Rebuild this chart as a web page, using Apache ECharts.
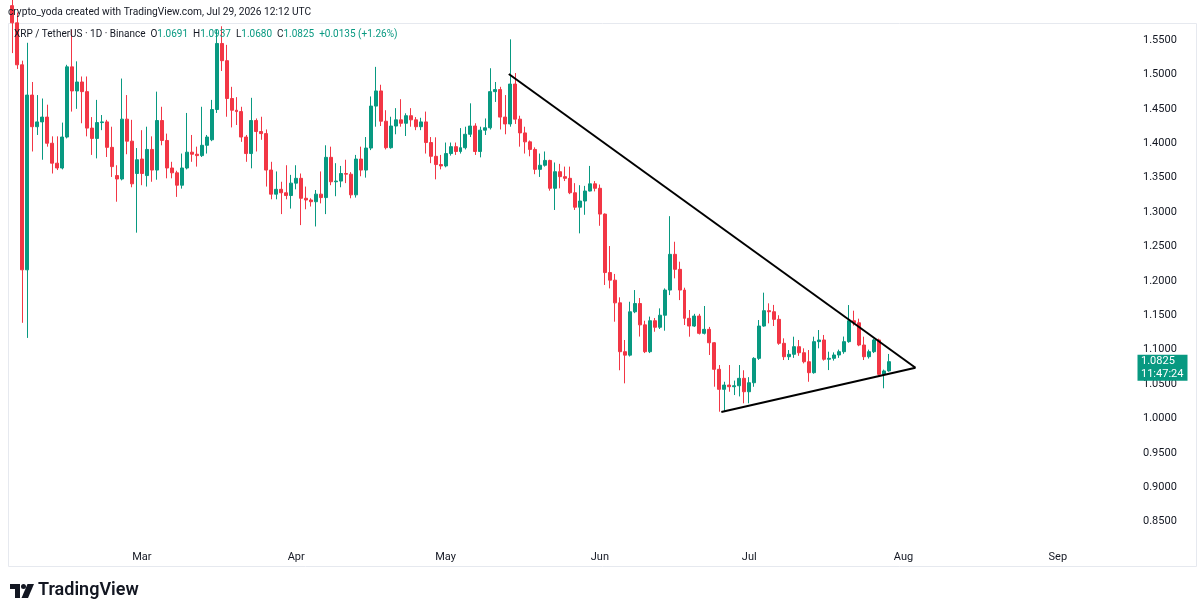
<!DOCTYPE html>
<html>
<head>
<meta charset="utf-8">
<title>XRP / TetherUS 1D</title>
<script src="https://cdn.jsdelivr.net/npm/echarts@6/dist/echarts.min.js"></script>
<style>
  html, body { margin: 0; padding: 0; background: #fff; }
  #main { width: 1200px; height: 616px; }
</style>
</head>
<body>
<div id="main"></div>
<script>
// daily candles, Feb 3 -> Jul 29 (index 0 = Feb 3)
const startDate = '2026-02-03'
const totalDays = 226 // axis runs on past the last candle into Sep

const opens = [
  1.600, 1.575, 1.514, 1.216, 1.470, 1.424, 1.431, 1.438, 1.400, 1.371,
  1.364, 1.409, 1.511, 1.476, 1.489, 1.475, 1.422, 1.407, 1.430, 1.431,
  1.394, 1.353, 1.348, 1.435, 1.403, 1.356, 1.377, 1.353, 1.391, 1.361,
  1.433, 1.404, 1.364, 1.357, 1.339, 1.364, 1.387, 1.384, 1.382, 1.397,
  1.405, 1.449, 1.545, 1.520, 1.465, 1.448, 1.446, 1.409, 1.385, 1.433,
  1.417, 1.414, 1.361, 1.326, 1.333, 1.328, 1.324, 1.342, 1.349, 1.320,
  1.3175, 1.315, 1.326, 1.321, 1.3795, 1.344, 1.345, 1.356, 1.355, 1.325,
  1.377, 1.361, 1.393, 1.454, 1.476, 1.432, 1.3935, 1.425, 1.434, 1.429,
  1.440, 1.434, 1.424, 1.431, 1.401, 1.381, 1.369, 1.367, 1.385, 1.395,
  1.388, 1.3935, 1.413, 1.425, 1.388, 1.419, 1.4225, 1.475, 1.478, 1.438,
  1.428, 1.486, 1.435, 1.415, 1.402, 1.391, 1.362, 1.368, 1.375, 1.3345,
  1.3586, 1.3514, 1.349, 1.328, 1.307, 1.316, 1.3305, 1.341, 1.3345, 1.297,
  1.212, 1.201, 1.168, 1.097, 1.092, 1.155, 1.167, 1.136, 1.097, 1.142,
  1.1325, 1.150, 1.1866, 1.2385, 1.2167, 1.1866, 1.1455, 1.1343, 1.1488, 1.1237,
  1.1295, 1.110, 1.0714, 1.0423, 1.0485, 1.0461, 1.0475, 1.0583, 1.0388, 1.0519,
  1.0873, 1.1343, 1.1566, 1.1551, 1.144, 1.1092, 1.0897, 1.0932, 1.1043, 1.0955,
  1.0824, 1.0665, 1.1116, 1.114, 1.086, 1.0874, 1.0922, 1.097, 1.1116, 1.142,
  1.139, 1.1067, 1.0897, 1.097, 1.114, 1.0641, 1.0691
]
const closes = [
  1.575, 1.514, 1.216, 1.470, 1.424, 1.431, 1.438, 1.400, 1.371, 1.364,
  1.409, 1.511, 1.476, 1.489, 1.475, 1.422, 1.407, 1.430, 1.431, 1.394,
  1.366, 1.348, 1.435, 1.403, 1.341, 1.376, 1.356, 1.391, 1.361, 1.433,
  1.404, 1.364, 1.357, 1.339, 1.364, 1.387, 1.384, 1.382, 1.397, 1.409,
  1.449, 1.545, 1.520, 1.465, 1.448, 1.446, 1.409, 1.385, 1.433, 1.417,
  1.414, 1.361, 1.326, 1.333, 1.328, 1.324, 1.342, 1.349, 1.320, 1.3175,
  1.315, 1.326, 1.321, 1.3795, 1.344, 1.345, 1.356, 1.355, 1.325, 1.377,
  1.361, 1.393, 1.454, 1.476, 1.432, 1.3935, 1.425, 1.434, 1.429, 1.440,
  1.434, 1.424, 1.431, 1.401, 1.381, 1.369, 1.367, 1.385, 1.395, 1.388,
  1.3935, 1.413, 1.425, 1.388, 1.419, 1.4225, 1.475, 1.478, 1.438, 1.428,
  1.486, 1.435, 1.415, 1.402, 1.391, 1.362, 1.368, 1.375, 1.3345, 1.3586,
  1.3514, 1.349, 1.328, 1.307, 1.316, 1.3305, 1.341, 1.3345, 1.297, 1.212,
  1.201, 1.168, 1.097, 1.092, 1.155, 1.167, 1.136, 1.097, 1.142, 1.1325,
  1.150, 1.1866, 1.2385, 1.2167, 1.1866, 1.1455, 1.1343, 1.1488, 1.1237, 1.1295,
  1.110, 1.0714, 1.0423, 1.0485, 1.0461, 1.0475, 1.0583, 1.0388, 1.0519, 1.0873,
  1.1343, 1.1566, 1.1551, 1.144, 1.1092, 1.0897, 1.0932, 1.1043, 1.0955, 1.0824,
  1.0665, 1.1116, 1.114, 1.086, 1.0874, 1.0922, 1.097, 1.1116, 1.142, 1.139,
  1.1067, 1.0897, 1.097, 1.114, 1.0641, 1.0690, 1.0825
]
const lows = [
  1.531, 1.508, 1.139, 1.117, 1.388, 1.412, 1.376, 1.395, 1.356, 1.361,
  1.362, 1.407, 1.446, 1.450, 1.429, 1.410, 1.383, 1.378, 1.419, 1.380,
  1.351, 1.315, 1.346, 1.384, 1.336, 1.270, 1.339, 1.337, 1.344, 1.347,
  1.397, 1.349, 1.349, 1.322, 1.334, 1.362, 1.373, 1.366, 1.380, 1.385,
  1.403, 1.444, 1.505, 1.4385, 1.423, 1.4265, 1.402, 1.373, 1.3635, 1.388,
  1.405, 1.337, 1.3185, 1.3185, 1.297, 1.3185, 1.305, 1.333, 1.281, 1.304,
  1.308, 1.279, 1.3126, 1.297, 1.339, 1.323, 1.336, 1.342, 1.320, 1.321,
  1.352, 1.350, 1.390, 1.424, 1.425, 1.391, 1.392, 1.413, 1.424, 1.4105,
  1.424, 1.419, 1.419, 1.385, 1.371, 1.3475, 1.362, 1.365, 1.382, 1.383,
  1.385, 1.391, 1.409, 1.383, 1.3795, 1.412, 1.420, 1.460, 1.420, 1.413,
  1.424, 1.428, 1.395, 1.385, 1.381, 1.355, 1.351, 1.366, 1.331, 1.303,
  1.3345, 1.345, 1.326, 1.303, 1.269, 1.296, 1.330, 1.330, 1.280, 1.194,
  1.189, 1.1406, 1.070, 1.051, 1.090, 1.153, 1.119, 1.095, 1.095, 1.126,
  1.130, 1.1275, 1.1793, 1.2036, 1.172, 1.1358, 1.1188, 1.133, 1.122, 1.122,
  1.0922, 1.0461, 1.0098, 1.0098, 1.0388, 1.034, 1.032, 1.022, 1.022, 1.046,
  1.085, 1.1333, 1.1382, 1.1343, 1.107, 1.0849, 1.0849, 1.088, 1.091, 1.080,
  1.0533, 1.065, 1.1019, 1.084, 1.0703, 1.084, 1.088, 1.094, 1.110, 1.135,
  1.105, 1.0849, 1.087, 1.095, 1.062, 1.0438, 1.0680
]
const highs = [
  1.610, 1.590, 1.520, 1.546, 1.489, 1.470, 1.465, 1.456, 1.410, 1.410,
  1.430, 1.514, 1.565, 1.519, 1.497, 1.497, 1.438, 1.463, 1.441, 1.434,
  1.424, 1.368, 1.494, 1.470, 1.434, 1.393, 1.419, 1.424, 1.410, 1.475,
  1.453, 1.414, 1.373, 1.360, 1.385, 1.444, 1.412, 1.395, 1.453, 1.412,
  1.463, 1.565, 1.570, 1.543, 1.482, 1.467, 1.453, 1.412, 1.466, 1.436,
  1.4385, 1.420, 1.373, 1.359, 1.344, 1.368, 1.354, 1.368, 1.356, 1.337,
  1.320, 1.332, 1.359, 1.397, 1.395, 1.371, 1.367, 1.376, 1.358, 1.383,
  1.395, 1.409, 1.468, 1.511, 1.485, 1.448, 1.4385, 1.451, 1.464, 1.4435,
  1.451, 1.438, 1.437, 1.446, 1.409, 1.4086, 1.383, 1.401, 1.401, 1.401,
  1.422, 1.424, 1.458, 1.429, 1.424, 1.436, 1.509, 1.489, 1.482, 1.470,
  1.551, 1.502, 1.440, 1.424, 1.404, 1.394, 1.385, 1.388, 1.376, 1.372,
  1.370, 1.366, 1.366, 1.342, 1.339, 1.338, 1.367, 1.345, 1.340, 1.298,
  1.2506, 1.210, 1.176, 1.114, 1.1696, 1.1866, 1.175, 1.142, 1.148, 1.146,
  1.160, 1.189, 1.294, 1.2568, 1.2278, 1.190, 1.1576, 1.152, 1.152, 1.1634,
  1.133, 1.111, 1.0776, 1.0533, 1.0776, 1.055, 1.0776, 1.070, 1.060, 1.089,
  1.143, 1.1828, 1.1673, 1.165, 1.150, 1.1164, 1.0994, 1.1188, 1.114, 1.1019,
  1.0994, 1.1188, 1.1285, 1.1213, 1.097, 1.096, 1.100, 1.119, 1.1648, 1.1566,
  1.145, 1.1188, 1.100, 1.116, 1.116, 1.071, 1.0937
]

// trend lines: [day index, price]
const upperTrend = [[99.7, 1.5006], [181.4, 1.0737]]
const lowerTrend = [[142.4, 1.0094], [181.4, 1.0737]]

const priceTicks = [0.85, 0.90, 0.95, 1.00, 1.05, 1.10, 1.15, 1.20, 1.25, 1.30, 1.35, 1.40, 1.45, 1.50, 1.55]
const monthNames = ['Jan', 'Feb', 'Mar', 'Apr', 'May', 'Jun', 'Jul', 'Aug', 'Sep', 'Oct', 'Nov', 'Dec']

const UP = '#089981'
const DOWN = '#f23645'
const FONT = 'Roboto, "Noto Sans", sans-serif'

// calendar days for the category axis
const dates = []
let d = new Date(startDate + 'T00:00:00Z')
for (let i = 0; i < totalDays; i++) {
  dates.push(d.toISOString().slice(0, 10))
  d = new Date(d.getTime() + 86400000)
}

const candles = opens.map((o, i) => [o, closes[i], lows[i], highs[i]])

const chart = echarts.init(document.getElementById('main'))

let option = {
  animation: false,
  backgroundColor: '#ffffff',
  grid: { left: 10, right: 65, top: 24, bottom: 76 },
  xAxis: [
    {
      type: 'category',
      data: dates,
      boundaryGap: true,
      axisLine: { show: false },
      axisTick: { show: false },
      splitLine: { show: false },
      axisLabel: {
        interval: (i, v) => v.slice(8) === '01',
        formatter: v => monthNames[+v.slice(5, 7) - 1],
        color: '#131722',
        fontSize: 11,
        fontFamily: FONT,
        margin: 12
      }
    },
    { type: 'value', min: -0.5, max: totalDays - 0.5, show: false }
  ],
  yAxis: {
    type: 'value',
    position: 'right',
    min: 0.8233,
    max: 1.5733,
    splitLine: { show: false },
    axisLine: { show: false },
    axisTick: { show: false },
    axisLabel: {
      customValues: priceTicks,
      formatter: v => v.toFixed(4),
      color: '#131722',
      fontSize: 11,
      fontFamily: FONT,
      margin: 8
    }
  },
  series: [
    {
      type: 'candlestick',
      data: candles,
      barWidth: '70%',
      itemStyle: {
        color: UP,
        color0: DOWN,
        borderColor: UP,
        borderColor0: DOWN,
        borderWidth: 1
      }
    },
    {
      type: 'line',
      xAxisIndex: 1,
      data: upperTrend,
      symbol: 'none',
      silent: true,
      lineStyle: { color: '#000000', width: 2 }
    },
    {
      type: 'line',
      xAxisIndex: 1,
      data: lowerTrend,
      symbol: 'none',
      silent: true,
      lineStyle: { color: '#000000', width: 2 }
    }
  ]
}
chart.setOption(option)

// header + last price tag
const last = candles.length - 1
const lastClose = closes[last]
const change = lastClose - closes[last - 1]
const pct = change / closes[last - 1] * 100
const sign = change >= 0 ? '+' : '-'
const legendText = 'XRP / TetherUS · 1D · Binance  ' +
  '{k|O}{v|' + opens[last].toFixed(4) + '}  ' +
  '{k|H}{v|' + highs[last].toFixed(4) + '}  ' +
  '{k|L}{v|' + lows[last].toFixed(4) + '}  ' +
  '{k|C}{v|' + lastClose.toFixed(4) + '}  ' +
  '{v|' + sign + Math.abs(change).toFixed(4) + ' (' + sign + Math.abs(pct).toFixed(2) + '%)}'

const priceY = chart.convertToPixel({ yAxisIndex: 0 }, lastClose)

chart.setOption({
  graphic: [
    {
      type: 'rect', silent: true, z: 0,
      shape: { x: 8.5, y: 23.5, width: 1188, height: 543 },
      style: { fill: 'none', stroke: '#e6e9ef', lineWidth: 1 }
    },
    {
      type: 'text', left: 8, top: 7, z: 10,
      style: { text: 'crypto_yoda created with TradingView.com, Jul 29, 2026 12:12 UTC', fill: '#131722', fontSize: 10.2, fontFamily: FONT }
    },
    {
      type: 'text', left: 14, top: 29.5, z: 10,
      style: {
        text: legendText,
        fill: '#131722',
        fontSize: 10,
        fontFamily: FONT,
        rich: {
          k: { fill: '#131722', fontSize: 10, fontFamily: FONT },
          v: { fill: UP, fontSize: 10, fontFamily: FONT }
        }
      }
    },
    {
      type: 'rect', z: 20, silent: true,
      shape: { x: 1137.5, y: priceY - 7, width: 50, height: 26 },
      style: { fill: UP }
    },
    {
      type: 'text', z: 21, silent: true, x: 1141, y: priceY,
      style: { text: lastClose.toFixed(4), fill: '#ffffff', fontSize: 11, fontFamily: FONT, verticalAlign: 'middle' }
    },
    {
      type: 'text', z: 21, silent: true, x: 1141, y: priceY + 13,
      style: { text: '11:47:24', fill: '#ffffff', fontSize: 11, fontFamily: FONT, verticalAlign: 'middle' }
    },
    // TradingView mark
    { type: 'rect', z: 10, shape: { x: 10, y: 584, width: 10, height: 5 }, style: { fill: '#131722' } },
    { type: 'rect', z: 10, shape: { x: 15, y: 584, width: 5, height: 14 }, style: { fill: '#131722' } },
    { type: 'circle', z: 10, shape: { cx: 23.5, cy: 586.5, r: 2.5 }, style: { fill: '#131722' } },
    { type: 'polygon', z: 10, shape: { points: [[27.5, 584], [34, 584], [28, 598], [21.5, 598]] }, style: { fill: '#131722' } },
    {
      type: 'text', left: 38, top: 581, z: 10,
      style: { text: 'TradingView', fill: '#131722', fontSize: 18, fontWeight: 600, fontFamily: FONT }
    }
  ]
})
</script>
</body>
</html>
